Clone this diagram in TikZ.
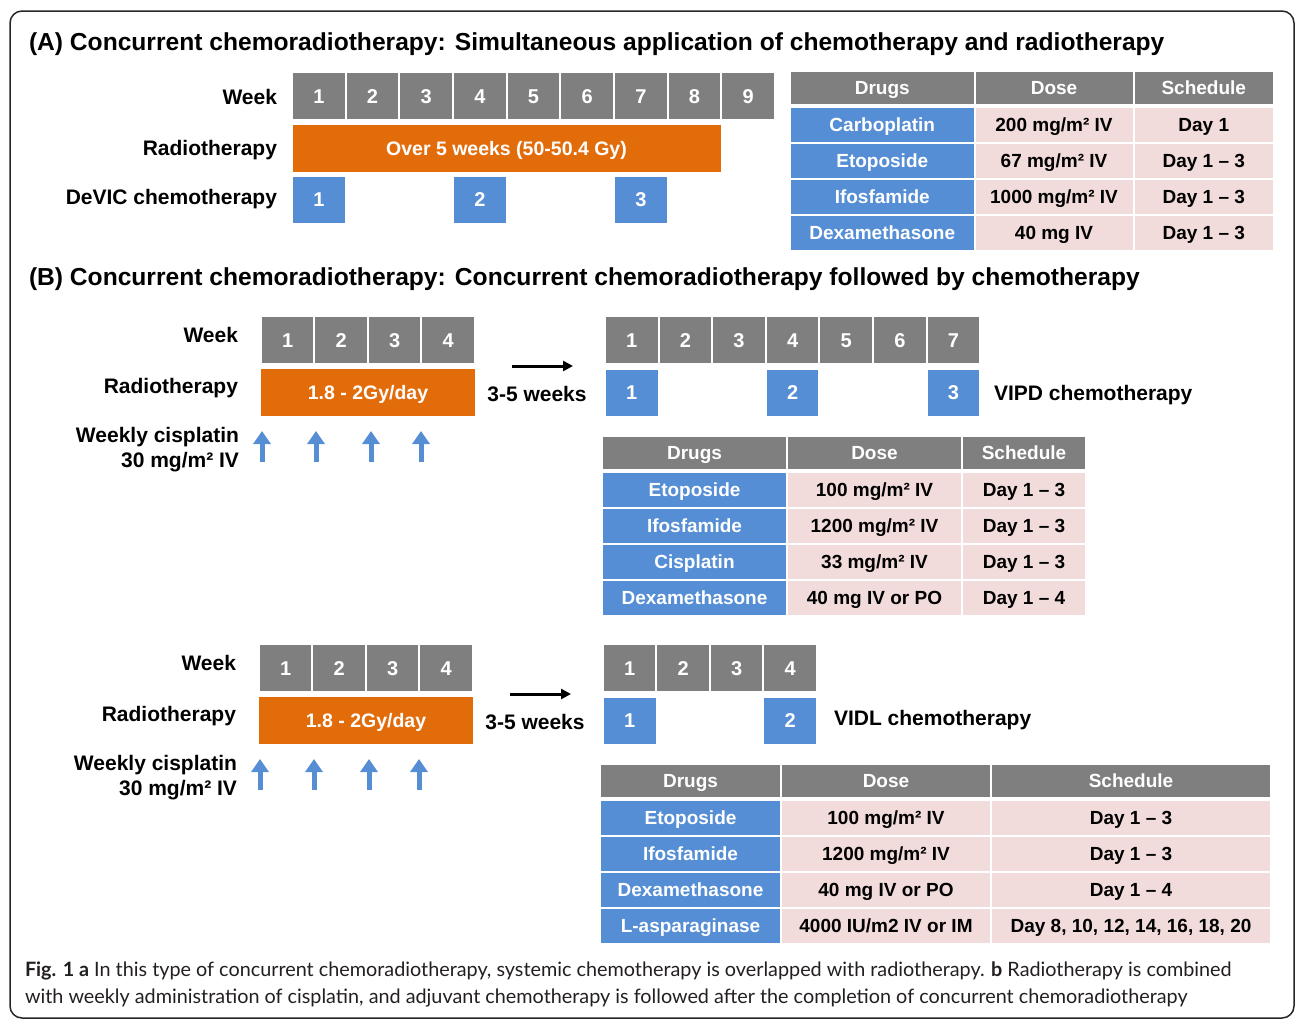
\documentclass[tikz,border=0pt]{standalone}
\usepackage{fontspec}
\setmainfont{Liberation Sans}
\newfontfamily\capfont{Lato}
\usetikzlibrary{arrows.meta}
\definecolor{wkgray}{RGB}{127,127,127}
\definecolor{rtorange}{RGB}{227,108,10}
\definecolor{chblue}{RGB}{85,142,213}
\definecolor{tpink}{RGB}{242,220,219}
\definecolor{captxt}{RGB}{35,31,32}
\newcommand\mgsq{mg/m²}
\begin{document}
\begin{tikzpicture}[x=1pt,y=-1pt,
  every node/.style={inner sep=0pt, outer sep=0pt, text depth=0pt},
  fs/.style={font=\fontsize{#1}{#1}\selectfont\bfseries},
  ttl/.style={fs=24.6, anchor=base west},
  lbl/.style={fs=21, text height=15.1pt, anchor=east},
  wk/.style={fill=wkgray, draw=white, line width=2pt, text=white, minimum width=53.6pt, minimum height=48pt, fs=20, text height=14.4pt},
  chemo/.style={fill=chblue, draw=white, line width=2pt, text=white, minimum width=53.6pt, minimum height=48pt, fs=20, text height=14.4pt},
  rt/.style={fill=rtorange, draw=white, line width=2pt, text=white, minimum height=49pt, fs=19.5, text height=14pt},
  hd/.style={fill=wkgray, draw=white, line width=2pt, text=white, fs=19, text height=13.7pt, minimum height=34pt},
  dr/.style={fill=chblue, draw=white, line width=2pt, text=white, fs=19, text height=13.7pt, minimum height=36pt},
  ce/.style={fill=tpink, draw=white, line width=2pt, text=black, fs=19, text height=13.7pt, minimum height=36pt},
  uparr/.style={draw=chblue, line width=5pt, -{Triangle[width=17pt,length=13pt]}},
  gap/.style={draw=black, line width=3pt, -{Triangle[width=10pt,length=10pt]}},
  captext/.style={font=\capfont\fontsize{19.8}{19.8}\selectfont, text=captxt, anchor=base west}
]
\useasboundingbox (0,0) rectangle (1295,1020);
\draw[line width=1.5pt, rounded corners=12pt, draw=black!85] (10,11) rectangle (1294,1018);

% ---------------- (A)
\node[ttl] (tA) at (29,50) {(A) Concurrent chemoradiotherapy: Simultaneous application of chemotherapy and radiotherapy};
\node[lbl] (aLw) at (277,97) {Week};
\node[lbl] (aLr) at (277,148) {Radiotherapy};
\node[lbl] (aLc) at (277,197) {DeVIC chemotherapy};
\foreach \i in {1,...,9} \node[wk] (aw\i) at ({292+53.67*(\i-0.5)},96) {\i};
\node[rt, minimum width=430pt] (art) at (506.5,148.5) {Over 5 weeks (50-50.4 Gy)};
\foreach \i/\w in {1/1,2/4,3/7} \node[chemo] (ac\i) at ({292+53.67*(\w-0.5)},199.5) {\i};

% table A
\foreach \c/\x/\w/\t in {1/882.25/184.5/Drugs,2/1054/159/Dose,3/1203.75/140.5/Schedule}
  \node[hd, minimum width=\w pt] (aTh\c) at (\x,88) {\t};
\foreach \a/\b/\c [count=\k] in {Carboplatin/200 \mgsq{} IV/Day 1, Etoposide/67 \mgsq{} IV/Day 1 – 3, Ifosfamide/1000 \mgsq{} IV/Day 1 – 3, Dexamethasone/40 mg IV/Day 1 – 3}{
  \node[dr, minimum width=184.5pt] (aT\k a) at (882.25,{89+36*\k}) {\a};
  \node[ce, minimum width=159pt] (aT\k b) at (1054,{89+36*\k}) {\b};
  \node[ce, minimum width=140.5pt] (aT\k c) at (1203.75,{89+36*\k}) {\c};
}

% ---------------- (B)
\node[ttl] (tB) at (29,285) {(B) Concurrent chemoradiotherapy: Concurrent chemoradiotherapy followed by chemotherapy};

% B1
\node[lbl] (bLw) at (238,335) {Week};
\node[lbl] (bLr) at (238,386) {Radiotherapy};
\node[lbl] (bLc) at (239,435) {Weekly cisplatin};
\node[lbl] (bLd) at (239,460) {30 \mgsq{} IV};
\foreach \i in {1,...,4} \node[wk] (bw\i) at ({261+53.5*(\i-0.5)},340) {\i};
\node[rt, minimum width=216pt] (brt) at (368,392.5) {1.8 - 2Gy/day};
\foreach \x [count=\k] in {262,316,371,421}{
  \coordinate (bu\k s) at (\x,462);
  \coordinate (bu\k e) at (\x,431);
  \draw[uparr] (bu\k s) -- (bu\k e);
}
\coordinate (bg1s) at (512,366);
\coordinate (bg1e) at (573,366);
\draw[gap] (bg1s) -- (bg1e);
\node[lbl, anchor=center] (bgap1) at (537,394) {3-5 weeks};
\foreach \i in {1,...,7} \node[wk] (bv\i) at ({605+53.6*(\i-0.5)},340) {\i};
\foreach \i/\w in {1/1,2/4,3/7} \node[chemo] (bc\i) at ({605+53.6*(\w-0.5)},392.5) {\i};
\node[lbl, anchor=west] (bvipd) at (994,393) {VIPD chemotherapy};

% table B1
\foreach \c/\x/\w/\t in {1/694.5/185/Drugs,2/874.5/175/Dose,3/1024/124/Schedule}
  \node[hd, minimum width=\w pt] (bTh\c) at (\x,453) {\t};
\foreach \a/\b/\c [count=\k] in {Etoposide/100 \mgsq{} IV/Day 1 – 3, Ifosfamide/1200 \mgsq{} IV/Day 1 – 3, Cisplatin/33 \mgsq{} IV/Day 1 – 3, Dexamethasone/40 mg IV or PO/Day 1 – 4}{
  \node[dr, minimum width=185pt] (bT\k a) at (694.5,{454+36*\k}) {\a};
  \node[ce, minimum width=175pt] (bT\k b) at (874.5,{454+36*\k}) {\b};
  \node[ce, minimum width=124pt] (bT\k c) at (1024,{454+36*\k}) {\c};
}

% B2
\node[lbl] (cLw) at (236,663) {Week};
\node[lbl] (cLr) at (236,714) {Radiotherapy};
\node[lbl] (cLc) at (237,763) {Weekly cisplatin};
\node[lbl] (cLd) at (237,788) {30 \mgsq{} IV};
\foreach \i in {1,...,4} \node[wk] (cw\i) at ({259+53.5*(\i-0.5)},668) {\i};
\node[rt, minimum width=216pt] (crt) at (366,720.5) {1.8 - 2Gy/day};
\foreach \x [count=\k] in {260,314,369,419}{
  \coordinate (cu\k s) at (\x,790);
  \coordinate (cu\k e) at (\x,759);
  \draw[uparr] (cu\k s) -- (cu\k e);
}
\coordinate (cg1s) at (510,694);
\coordinate (cg1e) at (571,694);
\draw[gap] (cg1s) -- (cg1e);
\node[lbl, anchor=center] (cgap1) at (535,722) {3-5 weeks};
\foreach \i in {1,...,4} \node[wk] (cv\i) at ({603+53.5*(\i-0.5)},668) {\i};
\foreach \i/\w in {1/1,2/4} \node[chemo] (cc\i) at ({603+53.5*(\w-0.5)},720.5) {\i};
\node[lbl, anchor=west] (cvidl) at (834,718) {VIDL chemotherapy};

% table B2
\foreach \c/\x/\w/\t in {1/690.5/181/Drugs,2/886/210/Dose,3/1131/280/Schedule}
  \node[hd, minimum width=\w pt] (cTh\c) at (\x,781) {\t};
\foreach \a/\b/\c [count=\k] in {Etoposide/100 \mgsq{} IV/Day 1 – 3, Ifosfamide/1200 \mgsq{} IV/Day 1 – 3, Dexamethasone/40 mg IV or PO/Day 1 – 4, L-asparaginase/4000 IU\slash m2 IV or IM/{Day 8, 10, 12, 14, 16, 18, 20}}{
  \node[dr, minimum width=181pt] (cT\k a) at (690.5,{782+36*\k}) {\a};
  \node[ce, minimum width=210pt] (cT\k b) at (886,{782+36*\k}) {\b};
  \node[ce, minimum width=280pt] (cT\k c) at (1131,{782+36*\k}) {\c};
}

% caption
\node[captext] (cap1) at (25,976) {{\bfseries Fig. 1 a} In this type of concurrent chemoradiotherapy, systemic chemotherapy is overlapped with radiotherapy. {\bfseries b} Radiotherapy is combined};
\node[captext] (cap2) at (25,1003) {with weekly administration of cisplatin, and adjuvant chemotherapy is followed after the completion of concurrent chemoradiotherapy};
\end{tikzpicture}
\end{document}
